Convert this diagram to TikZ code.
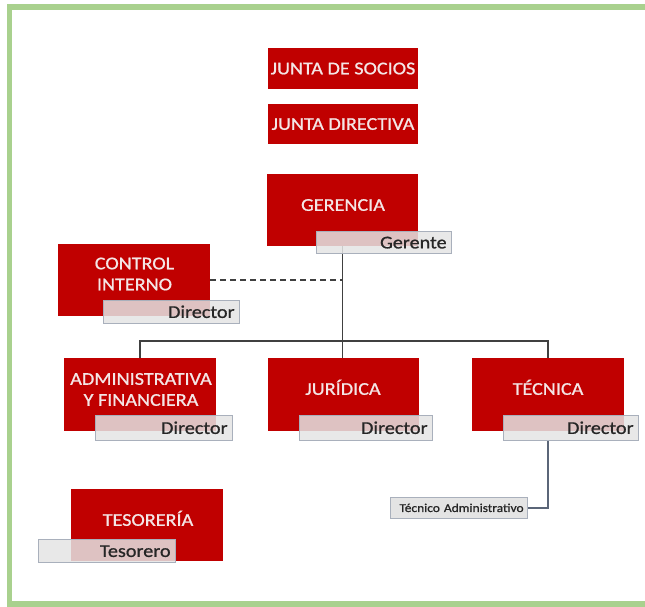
\documentclass[tikz,border=0pt]{standalone}
\usepackage{fontspec}
\setmainfont{Carlito}[FakeStretch=1.12]
\newfontfamily\heavyfont{Carlito}[FakeStretch=1.12, FakeBold=0.9]
\definecolor{boxred}{HTML}{C00000}
\definecolor{frameg}{HTML}{A9D18E}
\definecolor{lblfill}{HTML}{E4E4E4}
\definecolor{lbldraw}{HTML}{A9B0BC}
\definecolor{linec}{HTML}{404040}
\definecolor{tlinec}{HTML}{5B6678}
\definecolor{lbltext}{HTML}{262626}
\definecolor{redtext}{HTML}{F4E6E6}
\begin{document}
\begin{tikzpicture}[x=1pt,y=-1pt,
  redbox/.style={fill=boxred, inner sep=0pt, anchor=north west},
  redtxt/.style={text=redtext, font=\heavyfont\fontsize{18}{21}\selectfont, align=center, inner sep=0pt},
  onetxt/.style={redtxt, text height=11.6pt, text depth=0pt},
  lblbox/.style={draw=lbldraw, line width=1.2pt, fill=lblfill, fill opacity=0.85, text opacity=1,
    text=lbltext, anchor=north west, inner xsep=5pt, inner ysep=0pt, align=right,
    font=\heavyfont\fontsize{18}{21}\selectfont, text height=11.6pt, text depth=0pt},
  conn/.style={draw=linec, line width=1.5pt},
  tconn/.style={draw=tlinec, line width=1.5pt}
]
\useasboundingbox (0,0) rectangle (645,606);
\begin{scope}
\clip (0,0) rectangle (645,606);
\draw[frameg, line width=5.5pt] (9.5,7) rectangle (680,604);
\end{scope}

% red boxes
\node[redbox, minimum width=150pt, minimum height=41pt] (jsoc) at (268,48) {};
\node[redbox, minimum width=150pt, minimum height=40pt] (jdir) at (268,104) {};
\node[redbox, minimum width=151pt, minimum height=72pt] (ger) at (267,174) {};
\node[redbox, minimum width=152pt, minimum height=72pt] (ctrl) at (58,244) {};
\node[redbox, minimum width=152pt, minimum height=73pt] (adm) at (64,358) {};
\node[redbox, minimum width=151pt, minimum height=73pt] (jur) at (268,358) {};
\node[redbox, minimum width=152pt, minimum height=73pt] (tec) at (472,358) {};
\node[redbox, minimum width=152pt, minimum height=72pt] (tes) at (71,489) {};

% connectors
\draw[conn] (ger.south) -- (ger.south |- jur.north);
\draw[conn] (adm.north) -- ++(0,-17) -| (tec.north);
\draw[conn, dash pattern=on 6pt off 4pt] (ctrl.east) -- (ctrl.east -| ger.south);

% texts in red boxes
\node[onetxt] (jsoct) at (343,68.5) {JUNTA DE SOCIOS};
\node[onetxt] (jdirt) at (343,124) {JUNTA DIRECTIVA};
\node[onetxt] (gert) at (343,205) {GERENCIA};
\node[redtxt] (ctrlt) at (134.5,274) {CONTROL\\INTERNO};
\node[redtxt] (admt) at (141,389.5) {ADMINISTRATIVA\\Y FINANCIERA};
\node[onetxt] (jurt) at (343,389) {JURÍDICA};
\node[onetxt] (tect) at (548,389) {TÉCNICA};
\node[onetxt] (test) at (148,520) {TESORERÍA};

% label boxes
\node[lblbox, minimum width=135pt, minimum height=22pt, text width=125pt] (gerl) at (316,231) {Gerente};
\node[lblbox, minimum width=136pt, minimum height=23pt, text width=126pt] (ctrll) at (103,300) {Director};
\node[lblbox, minimum width=137pt, minimum height=25pt, text width=127pt] (adml) at (95,415) {Director};
\node[lblbox, minimum width=133pt, minimum height=25pt, text width=123pt] (jurl) at (299,415) {Director};
\node[lblbox, minimum width=135pt, minimum height=25pt, text width=125pt] (tecl) at (503,415) {Director};
\node[lblbox, minimum width=137pt, minimum height=23pt, text width=127pt] (tesl) at (38,539) {Tesorero};
\node[lblbox, minimum width=137pt, minimum height=21pt, text width=129pt, inner xsep=4pt,
  font=\heavyfont\fontsize{12}{14}\selectfont, text height=7.7pt, fill opacity=1] (tadm) at (390,497) {Técnico Administrativo};

\draw[tconn] (tecl.south -| tec.north) |- (tadm.east);
\end{tikzpicture}
\end{document}
